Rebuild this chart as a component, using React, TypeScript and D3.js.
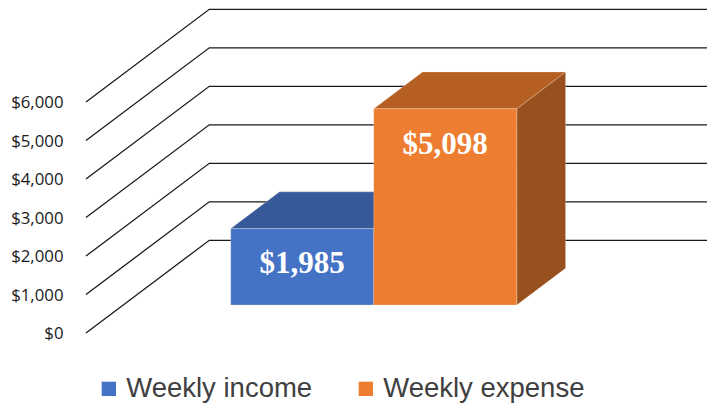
import React from "react";
import * as d3 from "d3";

const categories = ["Weekly income", "Weekly expense"];
const values = [1985, 5098];
const tickValues = [0, 1000, 2000, 3000, 4000, 5000, 6000];
const frontColors = ["#4472C4", "#ED7D31"];
const topColors = ["#36599A", "#B55F22"];
const sideColors = ["#2C4A80", "#98501E"];

const W = 707;
const H = 406;
// wall geometry
const wallFrontX = 86;
const depthDX = 123.3;
const depthDY = -92.7;
const barDepthFront = 0.302;
const barDepthBack = 0.698;

const y = d3.scaleLinear().domain([0, 6000]).range([333, 102]);
const x = d3
  .scaleBand<string>()
  .domain(categories)
  .range([193.5, 479.5])
  .paddingInner(0)
  .paddingOuter(0);

const fmt = (v: number) => "$" + d3.format(",")(v);

function proj(px: number, v: number, d: number): [number, number] {
  return [px + depthDX * d, y(v) + depthDY * d];
}

function poly(pts: [number, number][]) {
  return pts.map((p) => p[0].toFixed(2) + "," + p[1].toFixed(2)).join(" ");
}

export default function App() {
  const line = d3.line<[number, number]>();
  return (
    <svg width={W} height={H} style={{ position: "absolute", left: 0, top: 0, background: "#fff" }}>
      {tickValues.map((t) => {
        const p0: [number, number] = [wallFrontX, y(t)];
        const p1: [number, number] = [wallFrontX + depthDX, y(t) + depthDY];
        const p2: [number, number] = [W + 10, y(t) + depthDY];
        return (
          <g key={t}>
            <path d={line([p0, p1, p2]) || ""} fill="none" stroke="#1a1a1a" strokeWidth={1.3} />
            <text
              x={63.5}
              y={y(t)}
              dy="0.36em"
              textAnchor="end"
              fontFamily="'Open Sans', sans-serif"
              fontSize={16.8}
              fill="#1a1a1a"
            >
              {fmt(t)}
            </text>
          </g>
        );
      })}
      {categories.map((c, i) => {
        const x0 = x(c)!;
        const x1 = x0 + x.bandwidth();
        const v = values[i];
        const f = barDepthFront;
        const b = barDepthBack;
        const front = [proj(x0, 0, f), proj(x1, 0, f), proj(x1, v, f), proj(x0, v, f)] as [number, number][];
        const top = [proj(x0, v, f), proj(x1, v, f), proj(x1, v, b), proj(x0, v, b)] as [number, number][];
        const side = [proj(x1, 0, f), proj(x1, 0, b), proj(x1, v, b), proj(x1, v, f)] as [number, number][];
        const [fx0, fyTop] = proj(x0, v, f);
        const [, fyBot] = proj(x0, 0, f);
        const h = fyBot - fyTop;
        const labelY = fyTop + Math.min(h / 2, 34);
        const cx = fx0 + x.bandwidth() / 2;
        return (
          <g key={c}>
            <polygon points={poly(side)} fill={sideColors[i]} stroke="rgba(255,230,210,0.35)" strokeWidth={0.8} />
            <polygon points={poly(top)} fill={topColors[i]} stroke="rgba(255,230,210,0.35)" strokeWidth={0.8} />
            <polygon points={poly(front)} fill={frontColors[i]} stroke="rgba(255,230,210,0.35)" strokeWidth={0.8} />
            <text
              x={cx}
              y={labelY}
              dy="0.35em"
              textAnchor="middle"
              fontFamily="'Liberation Serif', 'Times New Roman', serif"
              fontWeight="bold"
              fontSize={31}
              fill="#ffffff"
            >
              {fmt(v)}
            </text>
          </g>
        );
      })}
      {categories.map((c, i) => {
        const lx = [101.7, 358.7][i];
        return (
          <g key={"leg" + c}>
            <rect x={lx} y={381.7} width={14.3} height={14.3} fill={frontColors[i]} />
            <text
              x={lx + 24.5}
              y={396.5}
              fontFamily="'Liberation Sans', Arial, sans-serif"
              fontSize={27.5}
              fill="#404040"
            >
              {c}
            </text>
          </g>
        );
      })}
    </svg>
  );
}
